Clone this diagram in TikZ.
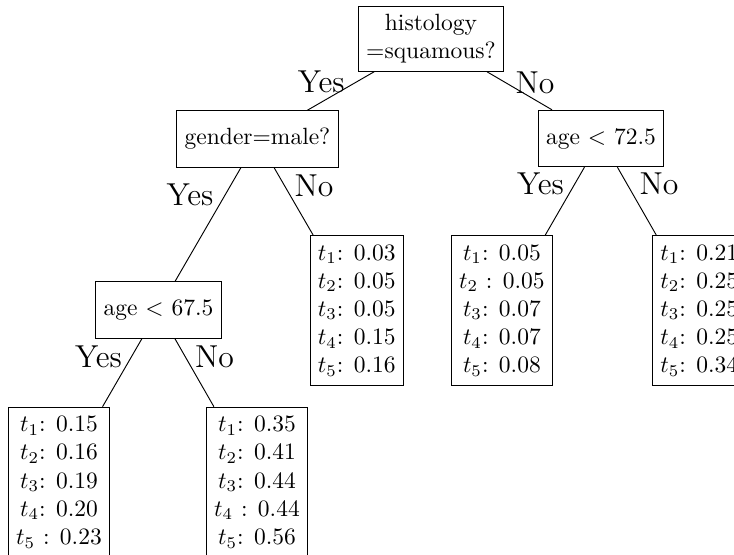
\documentclass[tikz,border=0pt]{standalone}
\begin{document}
\begin{tikzpicture}[x=0.42553pt,y=-0.42553pt,
  decision/.style={draw, align=center, minimum height=24pt, inner sep=3.333pt},
  leafbox/.style={draw, align=center, anchor=north, inner xsep=3.333pt, inner ysep=3.8pt},
  lbl/.style={anchor=base, font=\fontsize{13.5}{16}\selectfont, inner sep=0pt},
  conn/.style={draw, line width=0.4pt}]
\useasboundingbox (0,0) rectangle (734,555);
\clip (0,0) rectangle (734,555);
% decision nodes
\node[decision] (root) at (431,39) {histology\\=squamous?};
\node[decision] (gender) at (257.5,139) {gender=male?};
\node[decision] (age72) at (601,138.5) {age $<$ 72.5};
\node[decision] (age67) at (158.5,310) {age $<$ 67.5};
% leaves
\node[leafbox] (leafGN) at (356.7,235) {$t_1$: 0.03\\$t_2$: 0.05\\$t_3$: 0.05\\$t_4$: 0.15\\$t_5$: 0.16};
\node[leafbox] (leafAY) at (501.9,235) {$t_1$: 0.05\\$t_2$ : 0.05\\$t_3$: 0.07\\$t_4$: 0.07\\$t_5$: 0.08};
\node[leafbox] (leafAN) at (699.3,235) {$t_1$: 0.21\\$t_2$: 0.25\\$t_3$: 0.25\\$t_4$: 0.25\\$t_5$: 0.34};
\node[leafbox] (leafYY) at (59,406.7) {$t_1$: 0.15\\$t_2$: 0.16\\$t_3$: 0.19\\$t_4$: 0.20\\$t_5$ : 0.23};
\node[leafbox] (leafYN) at (257,406.7) {$t_1$: 0.35\\$t_2$: 0.41\\$t_3$: 0.44\\$t_4$ : 0.44\\$t_5$: 0.56};
% connectors
\path[conn] (root) -- (gender);
\path[conn] (root) -- (age72);
\path[conn] (gender) -- (age67);
\path[conn] (gender) -- (leafGN);
\path[conn] (age72) -- (leafAY);
\path[conn] (age72) -- (leafAN);
\path[conn] (age67) -- (leafYY);
\path[conn] (age67) -- (leafYN);
% labels
\node[lbl] (l1) at (321.3,93) {Yes};
\node[lbl] (l2) at (535,93.3) {No};
\node[lbl] (l3) at (190,206) {Yes};
\node[lbl] (l4) at (314,196.7) {No};
\node[lbl] (l5) at (540.5,195) {Yes};
\node[lbl] (l6) at (659,195) {No};
\node[lbl] (l7) at (98.5,367.3) {Yes};
\node[lbl] (l8) at (214.5,367) {No};
\end{tikzpicture}
\end{document}
